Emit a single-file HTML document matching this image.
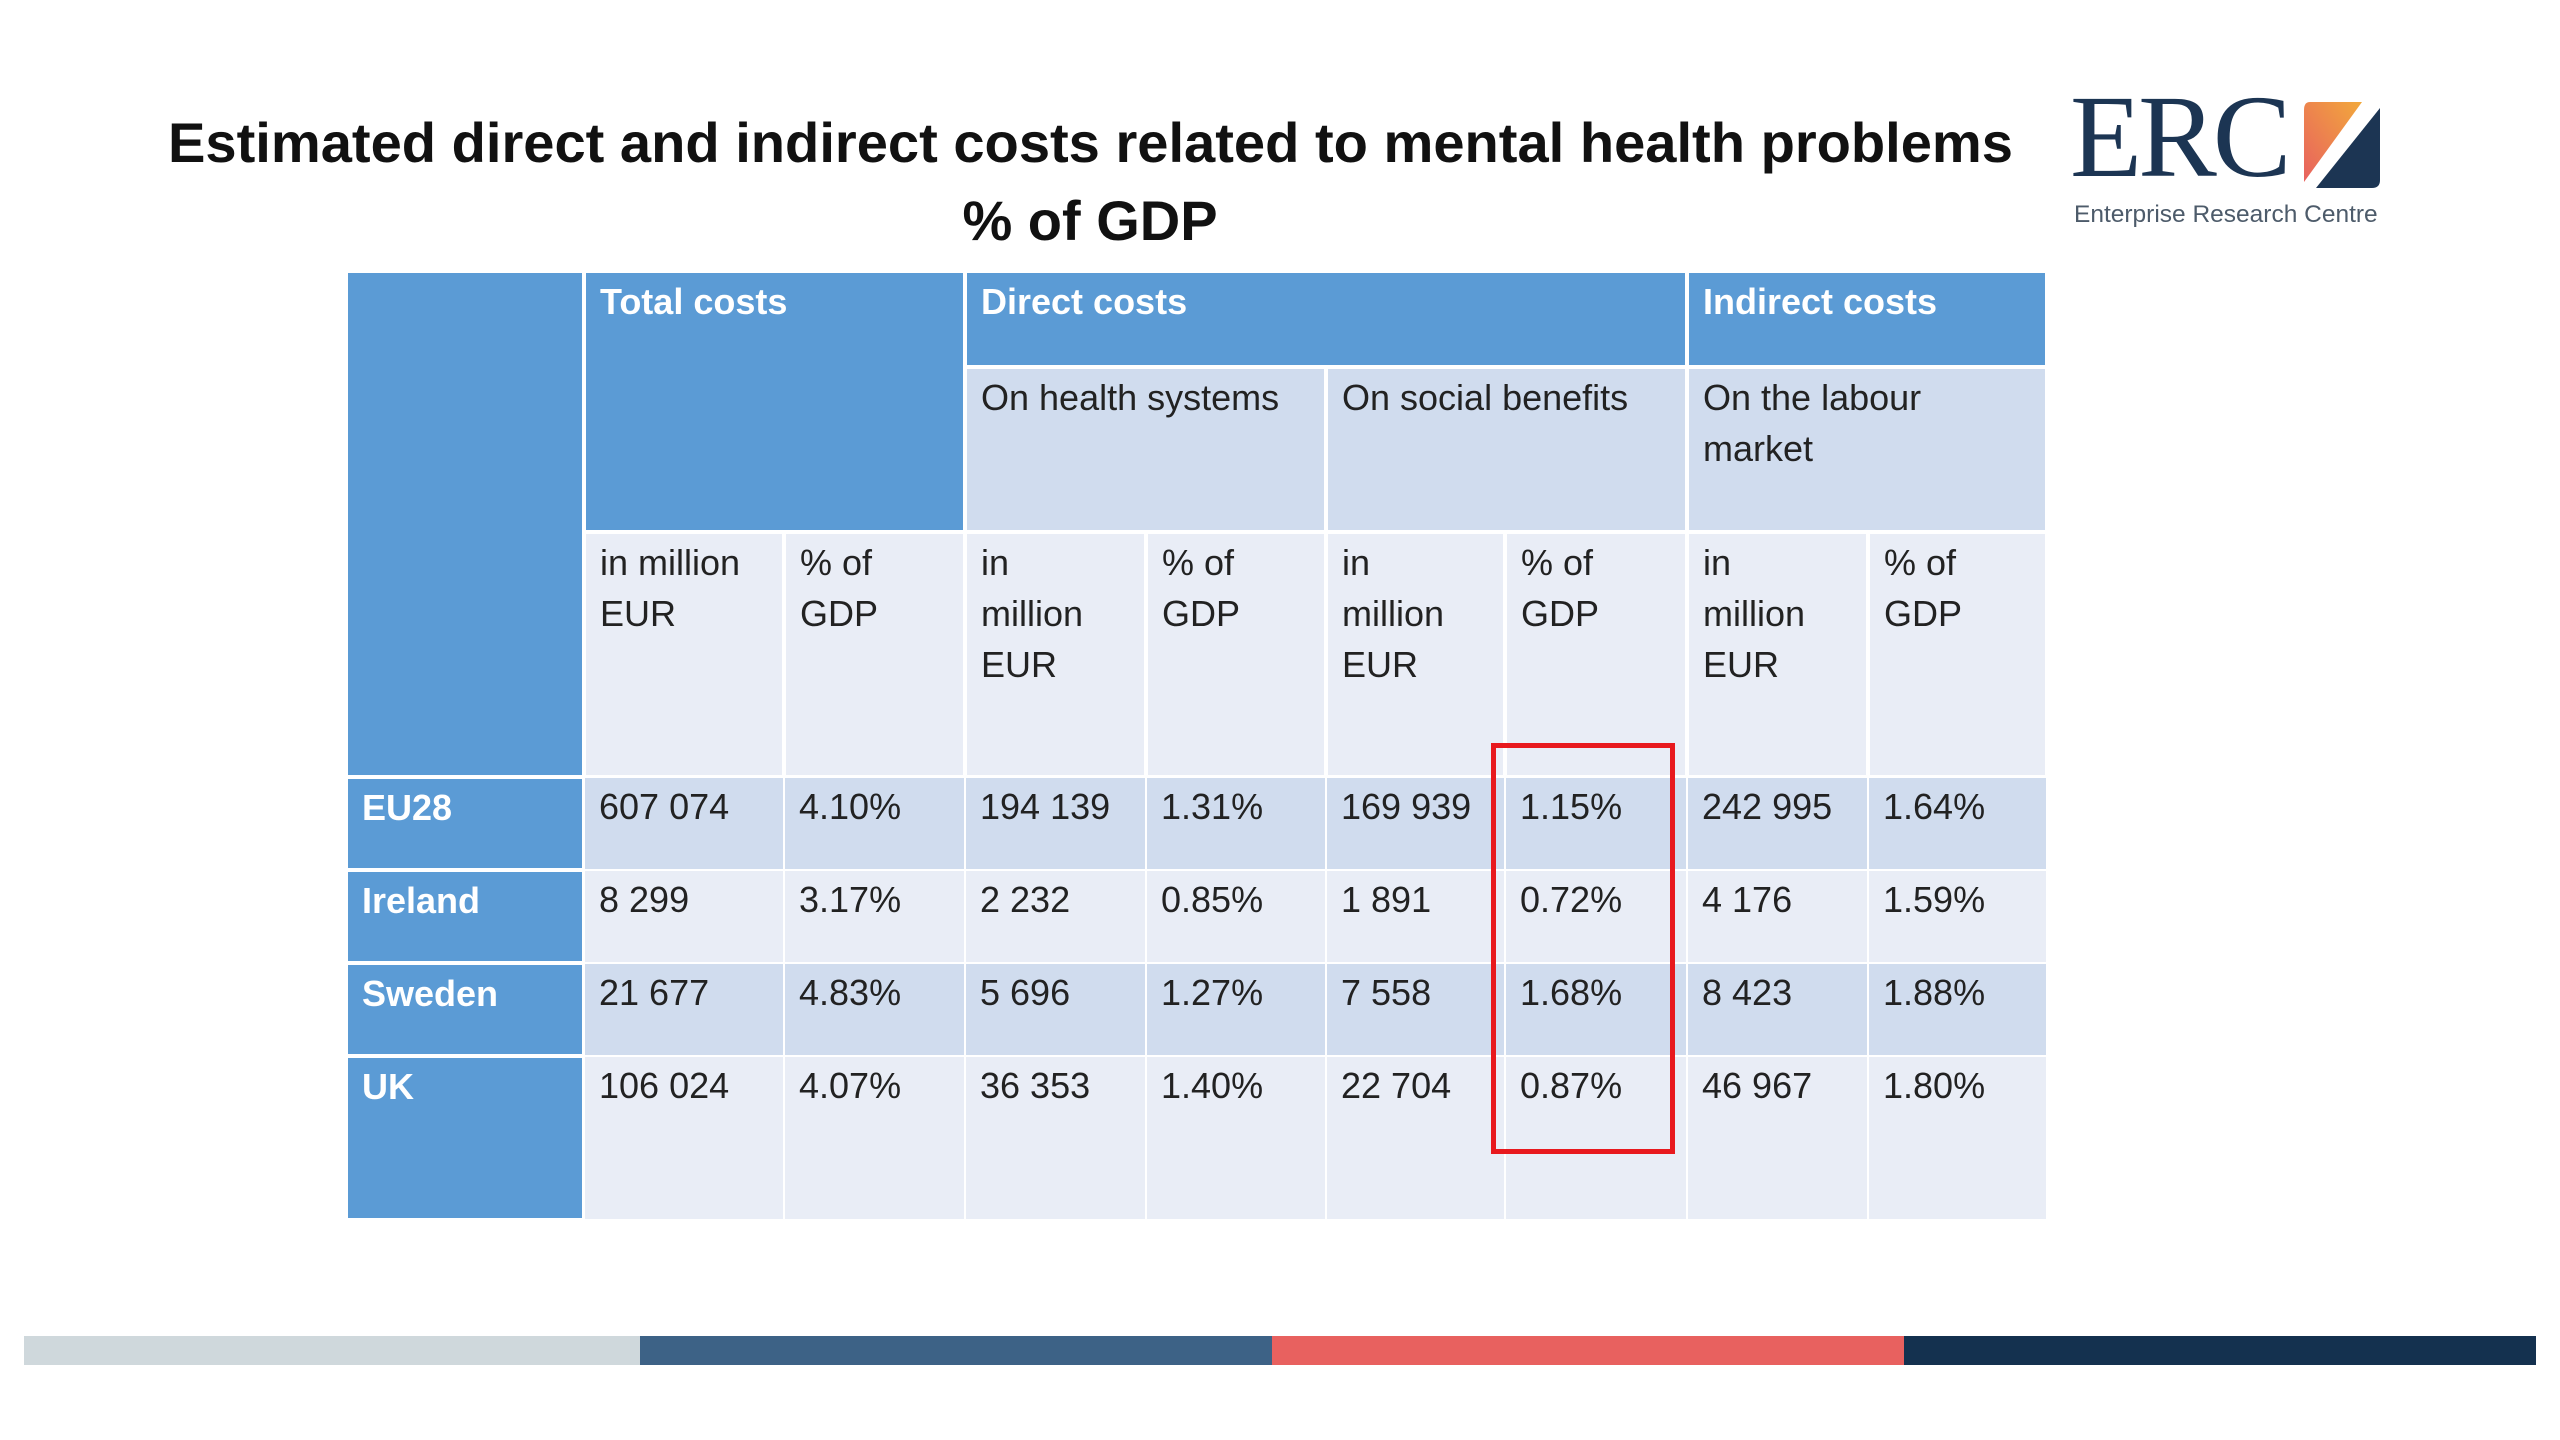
<!DOCTYPE html>
<html><head><meta charset="utf-8">
<style>
body{margin:0;width:2560px;height:1440px;background:#fff;position:relative;overflow:hidden;font-family:"Liberation Sans",sans-serif;}
.abs{position:absolute;}
.title{left:0;width:2180px;text-align:center;font-weight:bold;font-size:56px;color:#111;white-space:nowrap;}
.cell{position:absolute;box-sizing:border-box;padding:3px 14px 0 14px;font-size:36px;line-height:51px;color:#222;overflow:hidden;}
.hd{color:#fff;font-weight:bold;}
</style></head><body>
<div class="abs title" id="t1" style="top:110px;">Estimated direct and indirect costs related to mental health problems</div>
<div class="abs title" style="top:188px;">% of GDP</div>

<div class="abs" style="left:2070px;top:80px;width:330px;height:160px;">
  <div class="abs" style="left:0;top:-8px;font-family:'Liberation Serif',serif;font-size:118px;color:#1c3553;letter-spacing:-4px;line-height:130px;">ERC</div>
  <svg class="abs" style="left:232px;top:22px" width="80" height="88" viewBox="0 0 80 88">
    <defs><linearGradient id="g" x1="0" y1="1" x2="1" y2="0"><stop offset="0" stop-color="#e8615f"/><stop offset="1" stop-color="#f2a93b"/></linearGradient></defs>
    <path d="M8 0 H60 L2 80 V8 Q2 0 8 0Z" fill="url(#g)"/>
    <path d="M78 6 V78 Q78 86 70 86 H14 Z" fill="#1c3553"/>
  </svg>
  <div class="abs" style="left:4px;top:121px;font-size:24.5px;color:#4d5b6a;white-space:nowrap;">Enterprise Research Centre</div>
</div>

<div id="tbl"></div>

<div class="abs" style="left:1491px;top:743px;width:184px;height:411px;border:5px solid #e8191e;box-sizing:border-box;"></div>

<div class="abs" style="left:24px;top:1336px;width:616px;height:29px;background:#cfd8dc;"></div>
<div class="abs" style="left:640px;top:1336px;width:632px;height:29px;background:#3d6286;"></div>
<div class="abs" style="left:1272px;top:1336px;width:632px;height:29px;background:#e8615f;"></div>
<div class="abs" style="left:1904px;top:1336px;width:632px;height:29px;background:#14314f;"></div>

<script>
const countries = ["EU28","Ireland","Sweden","UK"];
const totalEur = ["607 074","8 299","21 677","106 024"];
const totalPct = ["4.10%","3.17%","4.83%","4.07%"];
const healthEur = ["194 139","2 232","5 696","36 353"];
const healthPct = ["1.31%","0.85%","1.27%","1.40%"];
const socialEur = ["169 939","1 891","7 558","22 704"];
const socialPct = ["1.15%","0.72%","1.68%","0.87%"];
const labourEur = ["242 995","4 176","8 423","46 967"];
const labourPct = ["1.64%","1.59%","1.88%","1.80%"];

const xs=[346,584,784,965,1146,1326,1505,1687,1868,2047];
const ys=[271,367,532,777,870,963,1056,1220];
const BLUE="#5b9bd5", L1="#d0dcee", L2="#e9edf6";
const tbl=document.getElementById('tbl');
function cell(c0,c1,r0,r1,bg,html,cls,name,gap){
  const g=gap||2;
  const d=document.createElement('div');
  d.className='cell'+(cls?' '+cls:'');
  d.style.left=(xs[c0]+g)+'px';d.style.width=(xs[c1]-xs[c0]-g*2)+'px';
  d.style.top=(ys[r0]+g)+'px';d.style.height=(ys[r1]-ys[r0]-g*2)+'px';
  d.style.background=bg;d.innerHTML=html;
  
  
  tbl.appendChild(d);
}
cell(0,1,0,3,BLUE,'','hd','corner-cell',0);
cell(1,3,0,2,BLUE,'Total costs','hd','total-costs-header');
cell(3,7,0,1,BLUE,'Direct costs','hd','direct-costs-header');
cell(7,9,0,1,BLUE,'Indirect costs','hd','indirect-costs-header');
cell(3,5,1,2,L1,'On health systems','','health-systems-header');
cell(5,7,1,2,L1,'On social benefits','','social-benefits-header');
cell(7,9,1,2,L1,'On the labour market','','labour-market-header');
const units=['in million<br>EUR','% of<br>GDP','in<br>million<br>EUR','% of<br>GDP','in<br>million<br>EUR','% of<br>GDP','in<br>million<br>EUR','% of<br>GDP'];
units.forEach((u,i)=>cell(i+1,i+2,2,3,L2,u,'','unit-header-'+(i+1)));
const cols=[totalEur,totalPct,healthEur,healthPct,socialEur,socialPct,labourEur,labourPct];
countries.forEach((c,r)=>{
  const bg=r%2===0?L1:L2;
  cell(0,1,r+3,r+4,BLUE,c,'hd','row-label-'+c.toLowerCase(),2);
  cols.forEach((arr,i)=>cell(i+1,i+2,r+3,r+4,bg,arr[r],'','value-'+c.toLowerCase()+'-'+(i+1),1));
});
</script>
<script>
(function(){
  const t=document.getElementById('t1');
  t.style.width='auto';t.style.left='168px';t.style.textAlign='left';
  t.style.display='inline-block';
  const w=t.getBoundingClientRect().width;
  t.style.transformOrigin='0 0';
  t.style.transform='scaleX('+(1845/w)+')';
})();
</script>
</body></html>
